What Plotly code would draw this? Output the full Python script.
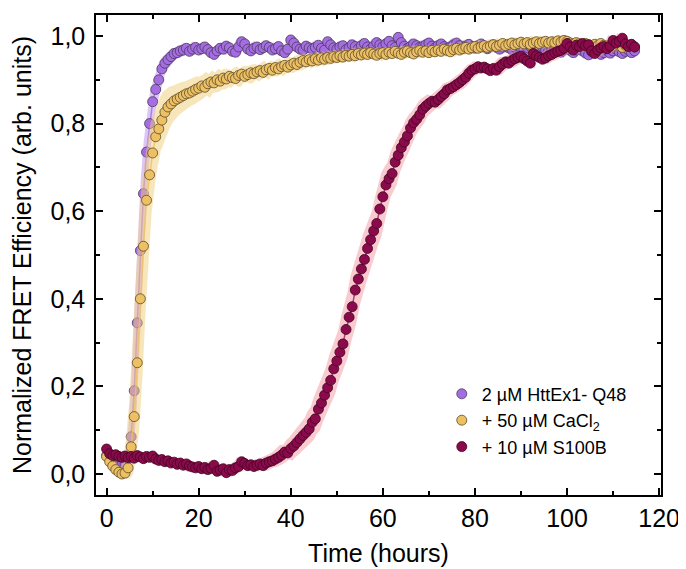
import numpy as np
import plotly.graph_objects as go

# sampling interval of the kinetics (hours)
dt_hours = 2 / 3

# 2 uM HttEx1-Q48
p_val = [0.042, 0.036, 0.031, 0.028, 0.024, 0.021, 0.023, 0.035,
         0.085, 0.19, 0.345, 0.51, 0.64, 0.735, 0.80, 0.85, 0.878, 0.90, 0.925, 0.938, 0.946, 0.953, 0.96, 0.962, 0.966,
         0.968, 0.972, 0.965, 0.97, 0.974, 0.968, 0.971, 0.975, 0.969, 0.962, 0.958, 0.966, 0.972, 0.97, 0.977, 0.973, 0.965, 0.963, 0.975, 0.987,
         0.982, 0.97, 0.966, 0.972, 0.975, 0.969, 0.973, 0.978, 0.974, 0.968, 0.971, 0.976, 0.966, 0.962, 0.97,
         0.991, 0.984, 0.975, 0.97, 0.968, 0.977, 0.973, 0.97, 0.974, 0.979, 0.972, 0.968, 0.987, 0.98, 0.973,
         0.97, 0.975, 0.978, 0.969, 0.973, 0.98, 0.976, 0.971, 0.978, 0.983, 0.975, 0.97, 0.977, 0.985, 0.98,
         0.976, 0.982, 0.988, 0.978, 0.974, 0.997, 0.985, 0.977, 0.972, 0.976, 0.982, 0.978, 0.974, 0.976, 0.98,
         0.984, 0.977, 0.973, 0.978, 0.982, 0.976, 0.972, 0.975, 0.98, 0.984, 0.978, 0.974, 0.977, 0.981, 0.976,
         0.972, 0.978, 0.982, 0.975, 0.971, 0.976, 0.98, 0.974, 0.97, 0.975, 0.979, 0.973, 0.969, 0.974, 0.978,
         0.972, 0.968, 0.974, 0.977, 0.971, 0.966, 0.97, 0.975, 0.969, 0.965, 0.97, 0.974, 0.968, 0.963, 0.969,
         0.973, 0.967, 0.962, 0.968, 0.972, 0.966, 0.961, 0.957, 0.964, 0.969, 0.963, 0.958, 0.962, 0.967, 0.961,
         0.966, 0.97, 0.964, 0.96, 0.965, 0.968, 0.962, 0.966]
p_err = [0.010, 0.009, 0.010, 0.011, 0.010, 0.009, 0.010, 0.012,
         0.020, 0.030, 0.035, 0.035, 0.030, 0.026, 0.022, 0.020, 0.018, 0.016, 0.015, 0.014, 0.013, 0.012, 0.012, 0.011, 0.012,
         0.011, 0.013, 0.010, 0.012, 0.014, 0.011, 0.010, 0.013, 0.012, 0.015, 0.011, 0.010, 0.012, 0.014, 0.011, 0.013, 0.010, 0.012, 0.015, 0.012,
         0.011, 0.013, 0.010, 0.012, 0.014, 0.011, 0.010, 0.013, 0.012, 0.011, 0.014, 0.010, 0.012, 0.013, 0.011,
         0.012, 0.010, 0.013, 0.011, 0.014, 0.012, 0.010, 0.011, 0.013, 0.012, 0.010, 0.014, 0.011, 0.012, 0.013,
         0.011, 0.010, 0.012, 0.013, 0.011, 0.014, 0.010, 0.012, 0.011, 0.013, 0.012, 0.010, 0.014, 0.011, 0.012,
         0.013, 0.011, 0.010, 0.012, 0.014, 0.011, 0.013, 0.010, 0.012, 0.011, 0.013, 0.012, 0.010, 0.014, 0.011,
         0.012, 0.010, 0.013, 0.011, 0.012, 0.014, 0.010, 0.011, 0.013, 0.012, 0.010, 0.012, 0.014, 0.011, 0.013,
         0.011, 0.012, 0.010, 0.013, 0.012, 0.011, 0.014, 0.010, 0.012, 0.013, 0.011, 0.010, 0.012, 0.014, 0.011,
         0.012, 0.013, 0.010, 0.011, 0.014, 0.012, 0.010, 0.013, 0.011, 0.012, 0.014, 0.010, 0.011, 0.013, 0.012,
         0.010, 0.012, 0.014, 0.011, 0.013, 0.010, 0.012, 0.011, 0.014, 0.012, 0.010, 0.013, 0.011, 0.012, 0.014,
         0.011, 0.013, 0.010, 0.012, 0.011, 0.014, 0.012, 0.011]

# + 50 uM CaCl2
y_val = [0.04, 0.028, 0.018, 0.01, 0.004, 0.0, 0.002, 0.014,
         0.062, 0.131, 0.254, 0.40, 0.52, 0.625, 0.683, 0.733, 0.77, 0.788, 0.808, 0.826, 0.838, 0.845, 0.852, 0.856, 0.86, 0.864, 0.868, 0.87, 0.874, 0.878, 0.881,
         0.886, 0.883, 0.891, 0.895, 0.893, 0.9, 0.897, 0.904, 0.902, 0.908, 0.905, 0.903, 0.91, 0.913,
         0.908, 0.912, 0.916, 0.914, 0.918, 0.921, 0.917, 0.923, 0.926, 0.922, 0.928, 0.925, 0.93, 0.933, 0.929,
         0.934, 0.938, 0.935, 0.94, 0.944, 0.941, 0.946, 0.943, 0.948, 0.945, 0.95, 0.947, 0.951, 0.949, 0.953,
         0.951, 0.955, 0.952, 0.956, 0.954, 0.958, 0.955, 0.96, 0.957, 0.961, 0.958, 0.962, 0.959, 0.956, 0.96,
         0.962, 0.958, 0.963, 0.96, 0.965, 0.961, 0.958, 0.963, 0.966, 0.962, 0.959, 0.964, 0.967, 0.963, 0.966,
         0.962, 0.967, 0.964, 0.968, 0.965, 0.97, 0.967, 0.964, 0.969, 0.972, 0.968, 0.971, 0.974, 0.97, 0.973,
         0.976, 0.972, 0.975, 0.978, 0.974, 0.977, 0.98, 0.976, 0.979, 0.983, 0.978, 0.981, 0.984, 0.98, 0.983,
         0.986, 0.982, 0.985, 0.981, 0.984, 0.987, 0.983, 0.986, 0.988, 0.984, 0.987, 0.985, 0.989, 0.986, 0.99,
         0.988, 0.984, 0.981, 0.985, 0.982, 0.978, 0.983, 0.98, 0.976, 0.981, 0.978, 0.983, 0.979, 0.975, 0.98,
         0.977, 0.982, 0.978, 0.974, 0.979, 0.976, 0.98, 0.975]
y_err = [0.010, 0.010, 0.011, 0.012, 0.012, 0.011, 0.012, 0.014,
         0.020, 0.030, 0.035, 0.035, 0.032, 0.030, 0.028, 0.030, 0.032, 0.033, 0.034, 0.035, 0.034, 0.033, 0.032, 0.030, 0.029, 0.028, 0.027, 0.026, 0.025, 0.024, 0.023,
         0.022, 0.024, 0.021, 0.023, 0.020, 0.022, 0.019, 0.021, 0.020, 0.018, 0.020, 0.019, 0.017, 0.018,
         0.017, 0.019, 0.016, 0.018, 0.017, 0.015, 0.017, 0.016, 0.018, 0.015, 0.016, 0.017, 0.015, 0.016, 0.014,
         0.015, 0.016, 0.014, 0.015, 0.013, 0.016, 0.014, 0.015, 0.013, 0.014, 0.015, 0.013, 0.014, 0.012, 0.014,
         0.013, 0.014, 0.012, 0.013, 0.015, 0.012, 0.013, 0.014, 0.012, 0.013, 0.011, 0.013, 0.012, 0.014, 0.012,
         0.013, 0.011, 0.012, 0.014, 0.012, 0.013, 0.011, 0.012, 0.013, 0.012, 0.011, 0.013, 0.012, 0.014, 0.012,
         0.011, 0.013, 0.012, 0.011, 0.013, 0.012, 0.014, 0.011, 0.012, 0.013, 0.011, 0.012, 0.013, 0.011, 0.012,
         0.013, 0.011, 0.012, 0.014, 0.012, 0.011, 0.013, 0.012, 0.011, 0.013, 0.012, 0.014, 0.011, 0.012, 0.013,
         0.011, 0.012, 0.013, 0.011, 0.012, 0.014, 0.012, 0.011, 0.013, 0.012, 0.011, 0.013, 0.012, 0.011, 0.012,
         0.013, 0.011, 0.012, 0.014, 0.011, 0.012, 0.013, 0.011, 0.012, 0.013, 0.011, 0.012, 0.014, 0.012, 0.011,
         0.012, 0.013, 0.011, 0.012, 0.014, 0.011, 0.012, 0.013]

# + 10 uM S100B
m_val = [0.057, 0.046, 0.042, 0.044, 0.04, 0.038, 0.041, 0.037, 0.04, 0.036,
         0.042, 0.039, 0.035, 0.04, 0.038, 0.041, 0.034, 0.031, 0.033, 0.028,
         0.03, 0.025, 0.027, 0.022, 0.025, 0.02, 0.023, 0.018, 0.016, 0.014,
         0.017, 0.012, 0.015, 0.01, 0.013, 0.02, 0.006, 0.009, 0.012, 0.003,
         0.01, 0.008, 0.014, 0.017, 0.028, 0.024, 0.019, 0.021, 0.017, 0.02,
         0.023, 0.019, 0.025, 0.028, 0.03, 0.034, 0.038, 0.043, 0.05, 0.048,
         0.058, 0.064, 0.072, 0.08, 0.088, 0.095, 0.103, 0.118, 0.126, 0.148,
         0.162, 0.18, 0.197, 0.214, 0.24, 0.258, 0.278, 0.297, 0.33, 0.358,
         0.382, 0.42, 0.445, 0.468, 0.49, 0.515, 0.535, 0.555, 0.572, 0.605,
         0.633, 0.66, 0.674, 0.686, 0.712, 0.728, 0.745, 0.758, 0.772, 0.79,
         0.802, 0.81, 0.82, 0.833, 0.84, 0.846, 0.851, 0.849, 0.855, 0.862,
         0.868, 0.877, 0.88, 0.884, 0.889, 0.894, 0.9, 0.906, 0.915, 0.922,
         0.925, 0.93, 0.927, 0.929, 0.925, 0.921, 0.926, 0.922, 0.93, 0.936,
         0.941, 0.938, 0.944, 0.948, 0.951, 0.954, 0.948, 0.943, 0.938, 0.96,
         0.955, 0.951, 0.947, 0.95, 0.955, 0.958, 0.962, 0.965, 0.967, 0.972,
         0.983, 0.975, 0.968, 0.979, 0.976, 0.983, 0.978, 0.98, 0.966, 0.96,
         0.968, 0.973, 0.976, 0.971, 0.977, 0.99, 0.984, 0.988, 0.995, 0.982,
         0.976, 0.981, 0.975]
m_err = [0.010, 0.009, 0.010, 0.011, 0.010, 0.009, 0.010, 0.011, 0.010, 0.009, 0.011, 0.010, 0.009, 0.010, 0.011,
         0.010, 0.009, 0.010, 0.011, 0.010, 0.009, 0.010, 0.011, 0.010, 0.009, 0.010, 0.011, 0.010, 0.009, 0.010,
         0.010, 0.011, 0.010, 0.009, 0.010, 0.011, 0.010, 0.009, 0.010, 0.011, 0.010, 0.009, 0.010, 0.011, 0.010,
         0.011, 0.010, 0.011, 0.012, 0.011, 0.012, 0.012, 0.013, 0.013, 0.014, 0.014, 0.015, 0.016, 0.017, 0.018,
         0.019, 0.020, 0.021, 0.022, 0.023, 0.024, 0.025, 0.026, 0.027, 0.028, 0.029, 0.030, 0.030, 0.031, 0.031,
         0.032, 0.032, 0.033, 0.033, 0.033, 0.034, 0.034, 0.034, 0.033, 0.033, 0.032, 0.032, 0.031, 0.030, 0.030,
         0.029, 0.028, 0.027, 0.026, 0.025, 0.024, 0.023, 0.022, 0.021, 0.020, 0.019, 0.018, 0.018, 0.017, 0.017,
         0.016, 0.016, 0.015, 0.015, 0.015, 0.014, 0.014, 0.014, 0.013, 0.013, 0.013, 0.013, 0.012, 0.012, 0.012,
         0.012, 0.013, 0.012, 0.011, 0.012, 0.013, 0.012, 0.011, 0.012, 0.013, 0.012, 0.011, 0.012, 0.013, 0.012,
         0.011, 0.012, 0.013, 0.012, 0.011, 0.012, 0.013, 0.012, 0.011, 0.012, 0.013, 0.012, 0.011, 0.012, 0.013,
         0.012, 0.011, 0.012, 0.013, 0.012, 0.011, 0.012, 0.013, 0.012, 0.011, 0.012, 0.013, 0.012, 0.011, 0.012,
         0.013, 0.012, 0.011, 0.012, 0.013, 0.012, 0.011, 0.012]

# spread in lag time between replicates (hours)
p_lag = 0.6
y_lag = 1.1
m_lag = 1.0

names = ["2 µM HttEx1- Q48", "+ 50 µM CaCl<sub>2</sub>", "+ 10 µM S100B"]

series = [
    (p_val, p_err, p_lag, "#a56de2", "rgba(180,130,235,0.45)", "rgba(165,109,226,0.8)", "#4a3a5c"),
    (y_val, y_err, y_lag, "#edc063", "rgba(242,205,120,0.5)", "rgba(237,192,99,0.8)", "#5c4a2a"),
    (m_val, m_err, m_lag, "#8b0a4c", "rgba(242,140,150,0.45)", "rgba(139,10,76,0.7)", "#40061f"),
]

fig = go.Figure()
for name, (val, err, lag, col, band_col, line_col, edge_col) in zip(names, series):
    val = np.array(val)
    err = np.array(err)
    t = np.arange(len(val)) * dt_hours
    bx = np.concatenate([t - lag, (t + lag)[::-1]])
    by = np.concatenate([val + err, (val - err)[::-1]])
    fig.add_trace(go.Scatter(x=bx, y=by, fill="toself", fillcolor=band_col, line=dict(width=0),
                             mode="lines", showlegend=False, hoverinfo="skip"))
    fig.add_trace(go.Scatter(x=t, y=val, mode="lines", line=dict(color=line_col, width=1.5),
                             showlegend=False, hoverinfo="skip"))
    fig.add_trace(go.Scatter(x=t, y=val, mode="markers", name=name,
                             marker=dict(size=10, color=col, line=dict(color=edge_col, width=0.8))))

font = "Liberation Sans, Arial, sans-serif"
axis_style = dict(showline=True, linecolor="black", linewidth=1.5, mirror="allticks",
                  ticks="inside", ticklen=7, tickwidth=1.5, tickcolor="black", automargin=False,
                  showgrid=False, zeroline=False, tickfont=dict(size=25, color="black"))

fig.update_xaxes(range=[-2.3, 120.4], tick0=0, dtick=20,
                 minor=dict(dtick=10, ticks="inside", ticklen=4, tickwidth=1.5, tickcolor="black"),
                 title=dict(text="Time (hours)", font=dict(size=25, color="black"), standoff=14),
                 **axis_style)
fig.update_yaxes(range=[-0.048, 1.048], tick0=0, dtick=0.2, tickformat=".1f", ticklabelstandoff=4,
                 minor=dict(dtick=0.1, ticks="inside", ticklen=4, tickwidth=1.5, tickcolor="black"),
                 title=dict(text="Normalized FRET Efficiency (arb. units)", font=dict(size=25, color="black"), standoff=12),
                 **axis_style)

# the page body adds an 8 px margin, so the figure is sized to fit the window
fig.update_layout(
    width=678, height=561,
    margin=dict(l=88, r=25, t=7, b=74),
    paper_bgcolor="white", plot_bgcolor="white",
    font=dict(family=font, color="black"),
    separators=", ",
    legend=dict(x=0.612, y=0.155, xanchor="left", yanchor="middle", bgcolor="rgba(0,0,0,0)",
                font=dict(size=18, color="black"), tracegroupgap=0),
)

fig.write_html("out.html")
